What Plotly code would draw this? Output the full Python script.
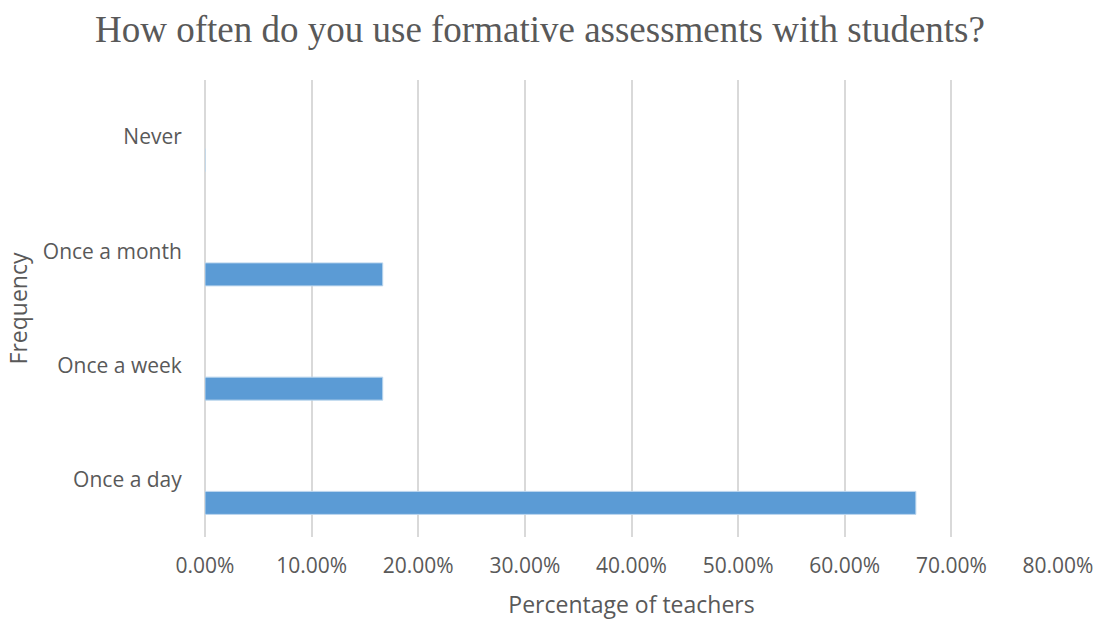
import plotly.graph_objects as go

categories = ["Once a day", "Once a week", "Once a month", "Never"]
percentages = [0.6667, 0.1667, 0.1667, 0.0]
x_ticks = [0, 0.1, 0.2, 0.3, 0.4, 0.5, 0.6, 0.7, 0.8]

fig = go.Figure()
fig.add_trace(go.Bar(
    y=categories, x=percentages, orientation="h",
    marker=dict(color="#5B9BD5", line=dict(color="#BDD7EE", width=1)),
    name="Percentage", hoverinfo="skip",
))
# placeholder (empty) series occupying the other slots of each group
for nm in ["s2", "s3"]:
    fig.add_trace(go.Bar(
        y=categories, x=[None] * len(categories), orientation="h",
        marker=dict(color="rgba(0,0,0,0)"), name=nm, hoverinfo="skip",
    ))

fig.update_layout(
    width=1102, height=620,
    margin=dict(l=205, r=44, t=80, b=83),
    paper_bgcolor="white", plot_bgcolor="white",
    barmode="group", bargap=0.396, bargroupgap=0,
    showlegend=False,
    font=dict(family="Open Sans", color="#595959", size=21),
    title=dict(
        text="How often do you use formative assessments with students?",
        font=dict(family="Liberation Serif", size=37, color="#595959"),
        x=0.49, xanchor="center", y=0.953, yanchor="middle",
    ),
    xaxis=dict(
        range=[0, 0.8], tickvals=x_ticks, tickformat=".2%",
        showgrid=True, gridcolor="#D9D9D9", gridwidth=1.5,
        zeroline=True, zerolinecolor="#D9D9D9", zerolinewidth=1.5,
        showline=False, automargin=False,
        ticks="outside", ticklen=10, tickcolor="rgba(0,0,0,0)",
        tickfont=dict(size=21),
        title=dict(text="Percentage of teachers", font=dict(size=23), standoff=19),
    ),
    yaxis=dict(
        showgrid=False, zeroline=False, showline=False, automargin=False,
        ticks="outside", ticklen=18, tickcolor="rgba(0,0,0,0)",
        tickfont=dict(size=21),
        title=dict(text="Frequency", font=dict(size=23), standoff=8),
    ),
)

fig.write_html("out.html")
